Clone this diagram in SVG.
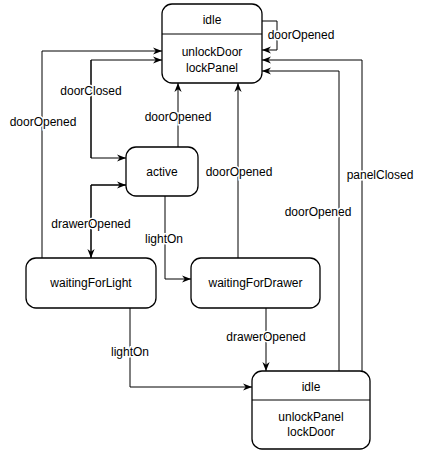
<svg xmlns="http://www.w3.org/2000/svg" width="423" height="453" viewBox="0 0 423 453">
<style>
.box{fill:#fff;stroke:#000;stroke-width:1.3}
.ln{fill:none;stroke:#000;stroke-width:1}
text{font-family:"Liberation Sans",Arial,sans-serif;font-size:12px;fill:#000;text-anchor:middle}
.lbl{paint-order:stroke;stroke:#fff;stroke-width:3px}
</style>
<defs>
<marker id="a" viewBox="0 0 10 10" refX="10" refY="5" markerWidth="9" markerHeight="9" markerUnits="userSpaceOnUse" orient="auto">
<path d="M0,1 L10,5 L0,9 L3,5 Z" fill="#000"/>
</marker>
</defs>
<rect width="423" height="453" fill="#fff"/>
<g id="connectors">
<path class="ln" d="M262,21 H277 V50 H262" marker-end="url(#a)"/>
<path class="ln" d="M178,147 V83" marker-end="url(#a)"/>
<path class="ln" d="M91,158 V60 H162" marker-end="url(#a)"/>
<path class="ln" d="M91,60 V158 H126" marker-end="url(#a)"/>
<path class="ln" d="M91,258 V185 H126" marker-end="url(#a)"/>
<path class="ln" d="M126,185 H91 V258" marker-end="url(#a)"/>
<path class="ln" d="M42,258 V51 H162" marker-end="url(#a)"/>
<path class="ln" d="M165,196 V279 H191" marker-end="url(#a)"/>
<path class="ln" d="M238,258 V83" marker-end="url(#a)"/>
<path class="ln" d="M130,308 V387 H252" marker-end="url(#a)"/>
<path class="ln" d="M266,308 V371" marker-end="url(#a)"/>
<path class="ln" d="M339,371 V71 H262" marker-end="url(#a)"/>
<path class="ln" d="M362,371 V60 H262" marker-end="url(#a)"/>
<text class="lbl" x="301" y="39">doorOpened</text>
<text class="lbl" x="178" y="121">doorOpened</text>
<text class="lbl" x="91" y="95">doorClosed</text>
<text class="lbl" x="43" y="126">doorOpened</text>
<text class="lbl" x="91" y="228">drawerOpened</text>
<text class="lbl" x="164" y="243">lightOn</text>
<text class="lbl" x="239" y="176">doorOpened</text>
<text class="lbl" x="130" y="356">lightOn</text>
<text class="lbl" x="266" y="341">drawerOpened</text>
<text class="lbl" x="318" y="216">doorOpened</text>
<text class="lbl" x="380" y="179">panelClosed</text>
</g>
<g id="idleTop">
<rect class="box" x="162" y="4" width="100" height="79" rx="10"/>
<line class="ln" x1="162" y1="34" x2="262" y2="34" stroke-width="1.3"/>
<text x="212" y="24">idle</text>
<text x="212" y="56">unlockDoor</text>
<text x="212" y="72">lockPanel</text>
</g>
<g id="active">
<rect class="box" x="126" y="147" width="72" height="49" rx="10"/>
<text x="162" y="176">active</text>
</g>
<g id="waitingForLight">
<rect class="box" x="26" y="258" width="130" height="50" rx="10"/>
<text x="91" y="287">waitingForLight</text>
</g>
<g id="waitingForDrawer">
<rect class="box" x="191" y="258" width="129" height="50" rx="10"/>
<text x="255.5" y="287">waitingForDrawer</text>
</g>
<g id="idleBottom">
<rect class="box" x="252" y="371" width="118" height="78" rx="10"/>
<line class="ln" x1="252" y1="400" x2="370" y2="400" stroke-width="1.3"/>
<text x="311" y="391">idle</text>
<text x="311" y="421">unlockPanel</text>
<text x="311" y="436">lockDoor</text>
</g>
</svg>
